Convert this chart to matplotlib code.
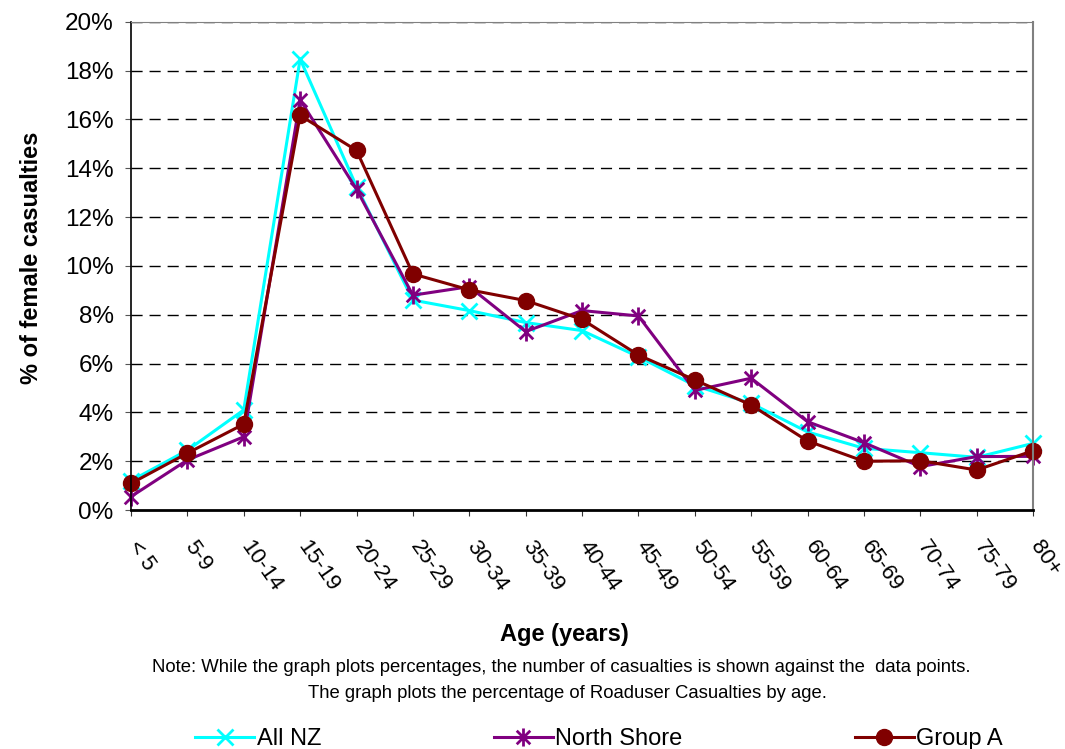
import matplotlib
matplotlib.use('Agg')
import matplotlib.pyplot as plt
import matplotlib.transforms as mtransforms
from matplotlib.path import Path

plt.rcParams['font.family'] = ['Liberation Sans', 'DejaVu Sans']

# age groups and percentages
ages = ['< 5', '5-9', '10-14', '15-19', '20-24', '25-29', '30-34', '35-39',
        '40-44', '45-49', '50-54', '55-59', '60-64', '65-69', '70-74', '75-79', '80+']
all_nz = [1.2, 2.45, 4.1, 18.47, 13.25, 8.6, 8.17, 7.68, 7.35, 6.28, 5.1, 4.37,
          3.2, 2.53, 2.35, 2.16, 2.73]
north_shore = [0.55, 2.05, 3.0, 16.8, 13.14, 8.8, 9.15, 7.31, 8.17, 7.95, 4.9, 5.4,
               3.62, 2.76, 1.78, 2.19, 2.2]
group_a = [1.09, 2.33, 3.52, 16.16, 14.73, 9.67, 9.02, 8.58, 7.81, 6.35, 5.33, 4.3,
           2.83, 2.0, 2.02, 1.64, 2.43]
y_ticks = [0, 2, 4, 6, 8, 10, 12, 14, 16, 18, 20]

# Excel style asterisk marker (x plus vertical bar)
star = Path([(0, -1), (0, 1), (-0.75, -0.75), (0.75, 0.75), (-0.75, 0.75), (0.75, -0.75)],
            [Path.MOVETO, Path.LINETO] * 3)

fig = plt.figure(figsize=(10.65, 7.49), dpi=100)
ax = fig.add_axes([0.123, 0.319, 0.847, 0.652])

x = list(range(len(ages)))
ax.plot(x, all_nz, color='#00FFFF', lw=2.2, marker='x', ms=11, mew=2,
        label='All NZ', clip_on=False)
ax.plot(x, north_shore, color='#800080', lw=2.2, marker=star, ms=13, mew=2,
        label='North Shore', clip_on=False)
ax.plot(x, group_a, color='#800000', lw=2.2, marker='o', ms=11.5,
        label='Group A', clip_on=False)

ax.set_xlim(0, len(ages) - 1)
ax.set_ylim(0, 20)
ax.set_yticks(y_ticks)
ax.set_yticklabels([f'{v}%' for v in y_ticks], fontsize=17.5)
ax.set_xticks(x)
ax.set_xticklabels(ages, fontsize=16, rotation=-55, ha='left', va='top',
                   rotation_mode='anchor')
ax.tick_params(axis='x', direction='out', length=4.5, pad=15, color='#333333')
ax.tick_params(axis='y', direction='out', length=4.5, pad=8, color='#555555')

# nudge the slanted age labels to the right so they start at their tick
shift = mtransforms.ScaledTranslation(0.10, 0, fig.dpi_scale_trans)
for lab in ax.get_xticklabels():
    lab.set_transform(lab.get_transform() + shift)

for yv in y_ticks[1:]:
    ax.axhline(yv, color='black', lw=1, ls=(0, (8, 5)), zorder=0)

ax.spines['left'].set_color('black')
ax.spines['left'].set_linewidth(1.2)
ax.spines['bottom'].set_color('black')
ax.spines['bottom'].set_linewidth(2)
ax.spines['top'].set_color('#808080')
ax.spines['right'].set_color('#808080')
ax.spines['right'].set_linewidth(1.5)

fig.text(0.030, 1 - 258 / 749, '% of female casualties', rotation=90, fontsize=17,
         fontweight='bold', ha='center', va='center')
fig.text(564 / 1065, 1 - 635 / 749, 'Age (years)', fontsize=17, fontweight='bold',
         ha='center', va='center')
fig.text(561 / 1065, 1 - 668 / 749,
         'Note: While the graph plots percentages, the number of casualties is shown against the  data points.',
         fontsize=13.3, ha='center', va='center')
fig.text(567 / 1065, 1 - 693 / 749,
         'The graph plots the percentage of Roaduser Casualties by age.',
         fontsize=13.3, ha='center', va='center')

fig.legend(loc='center', bbox_to_anchor=(599 / 1065, 1 - 739 / 749), ncol=3,
           frameon=False, fontsize=17, handlelength=2.5, handletextpad=0.1,
           columnspacing=7.3)

fig.savefig('out.png', dpi=100)
